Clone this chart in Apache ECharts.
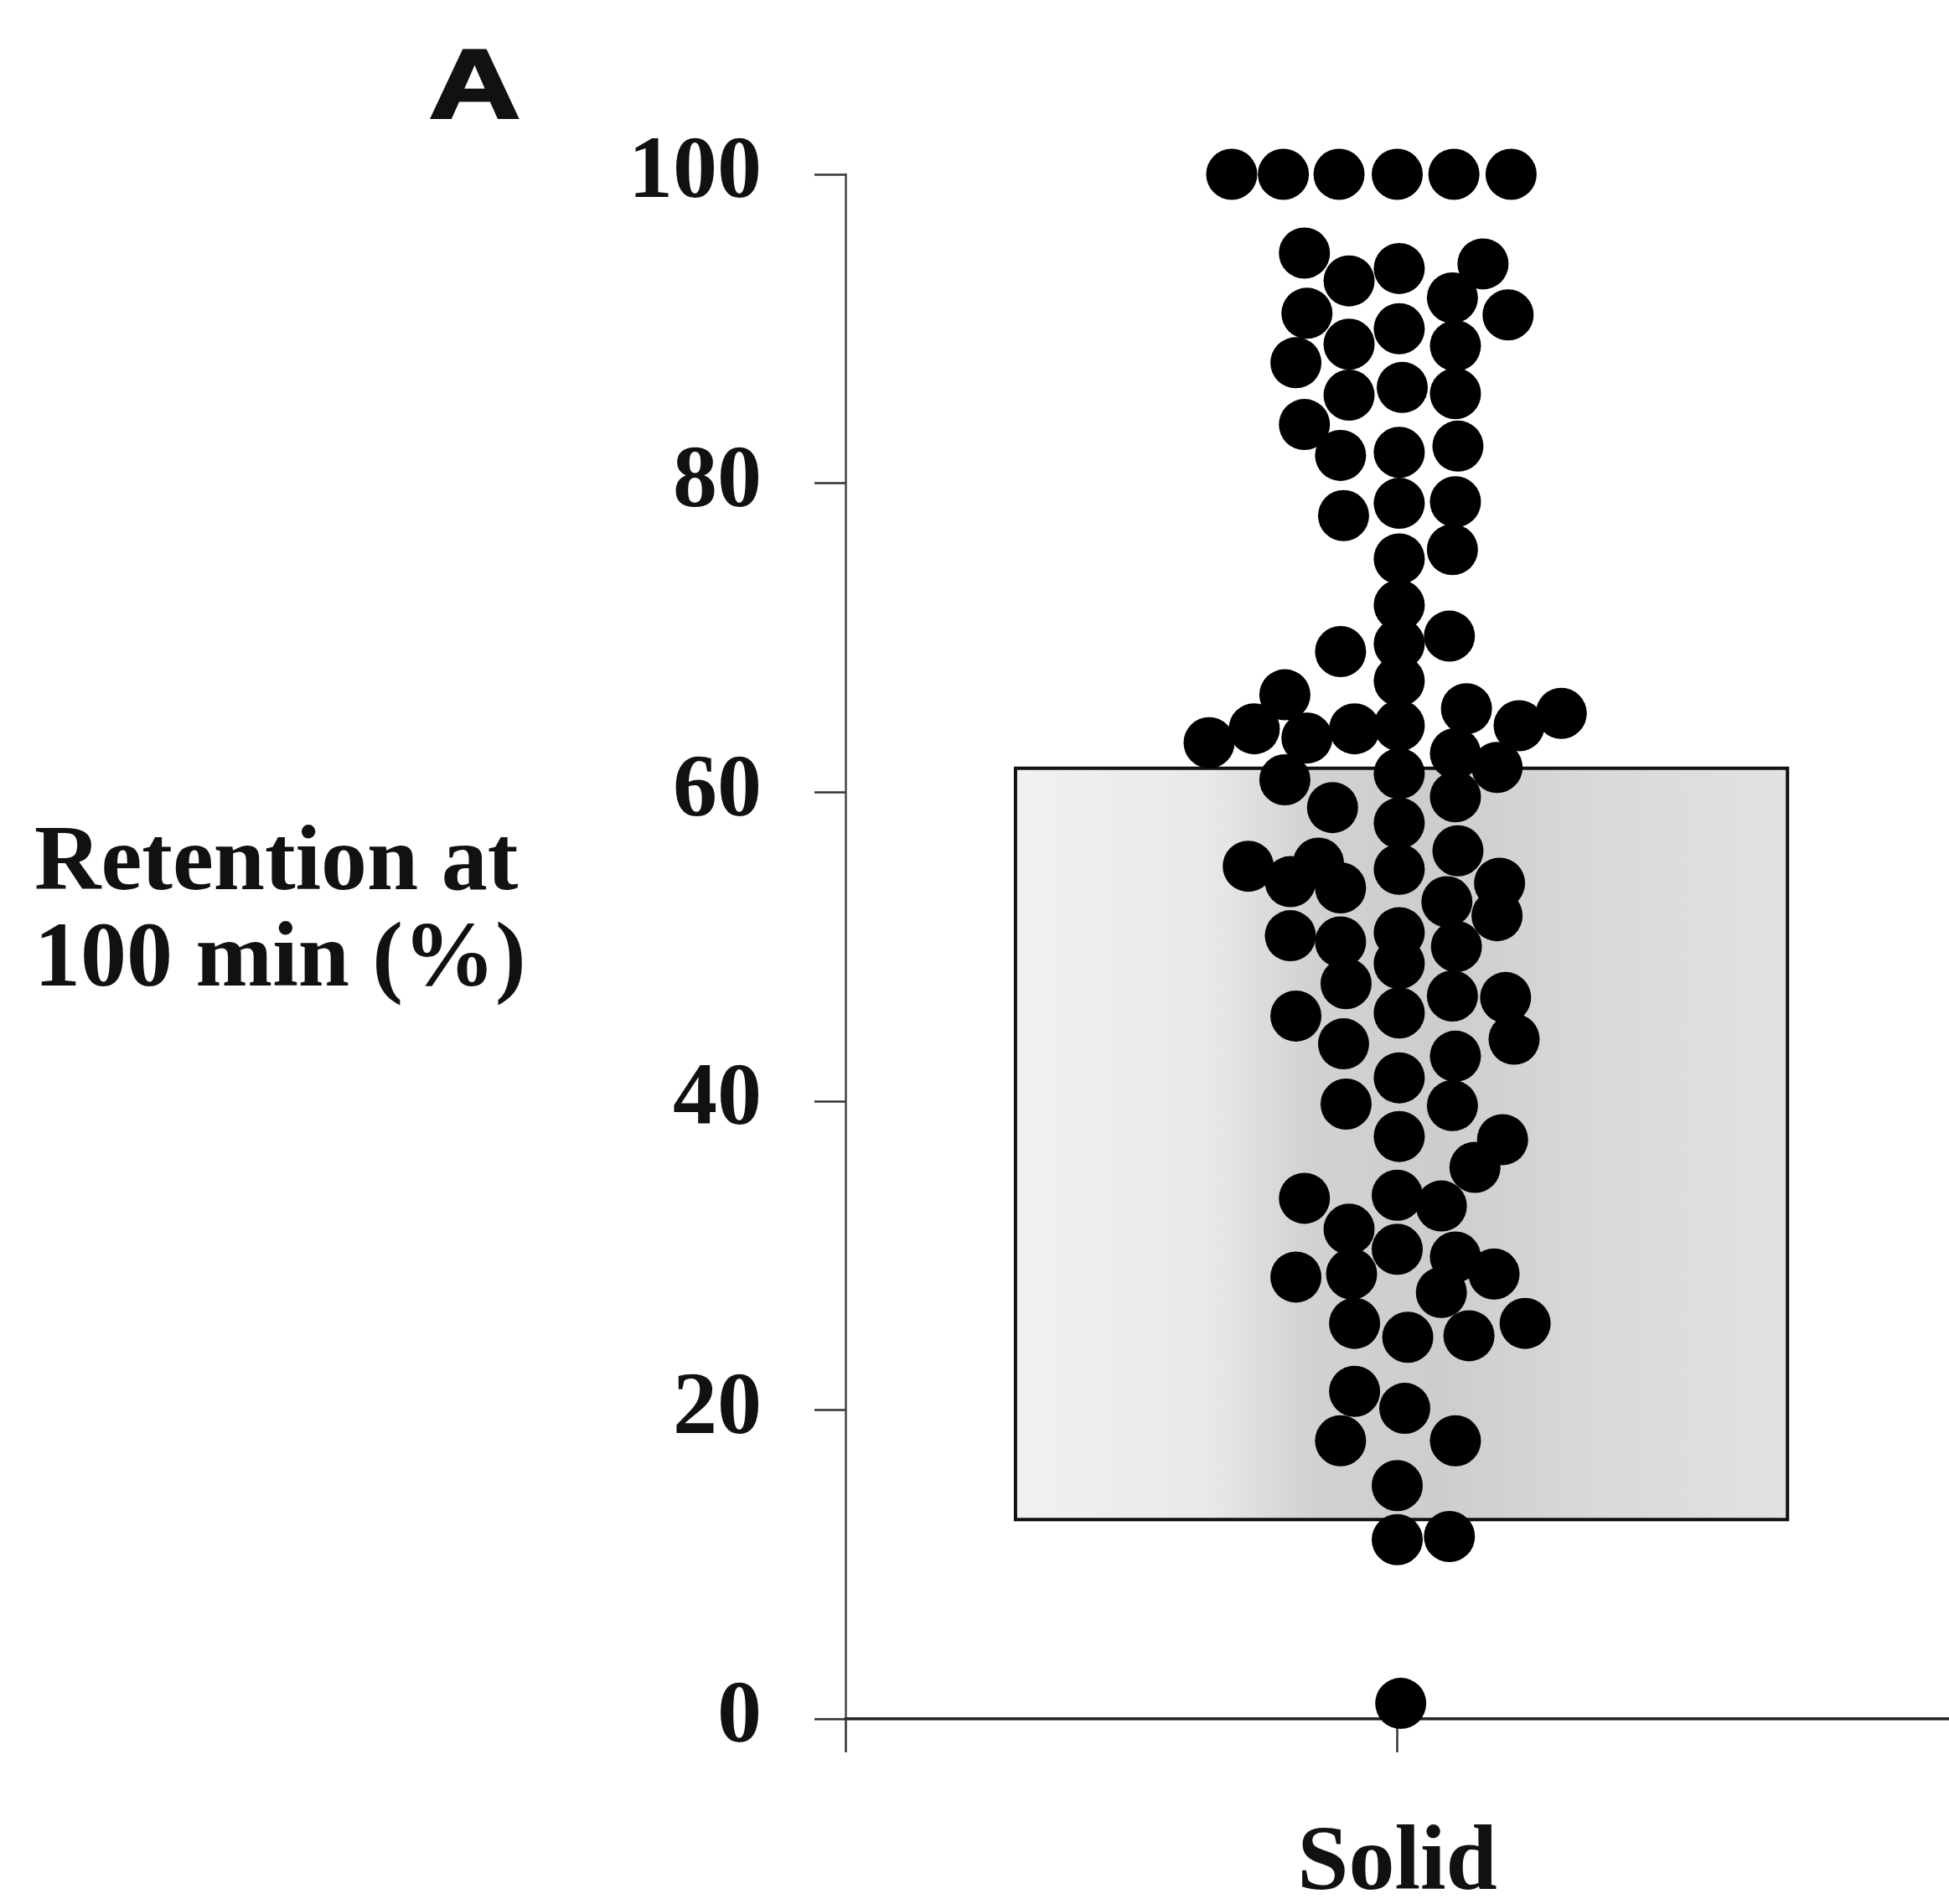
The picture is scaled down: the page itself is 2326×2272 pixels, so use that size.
<!DOCTYPE html>
<html>
<head>
<meta charset="utf-8">
<script src="https://cdn.jsdelivr.net/npm/echarts@6/dist/echarts.min.js"></script>
<style>
html,body{margin:0;padding:0;background:#fff;}
#chart{width:2326px;height:2272px;}
</style>
</head>
<body>
<div id="chart"></div>
<script>
// ---- data ----
const categories = ['Solid'];
const panelLabel = 'A';
const yTitle = 'Retention at\n100 min (%)';
const yTicks = [0, 20, 40, 60, 80, 100];
// horizontal jitter of each dot (in dot-widths from the category centre)
const jitter = [
  -3.30, -2.27, -1.16, 0.00, 1.13, 2.27,
  -1.85, -0.96, 0.04, 1.71, 1.10, 2.21, -1.80, 0.04, -0.96, -2.02, 1.16, -0.96, 0.10, 1.16,
  -1.85, -1.13, 0.04, 1.21, -1.07, 0.04, 1.16, 1.10, 0.04, 0.04, -1.13, 1.04, 0.04, 0.04,
  0.04, 0.04, 0.04, 0.04,
  -3.75, -2.85, -2.24, -0.85, -1.80, -2.24, -1.29,
  1.38, 2.43, 3.27, 1.16, 1.99, 1.16,
  -2.97, -2.13, -1.57, -1.13, -2.13, -1.13, 0.04, 0.04, 1.21, 2.04, 0.99, 1.99, 1.18,
  -2.02, -1.02, -1.07, 0.04, 1.10, 2.16, 2.33,
  -1.02, 0.04, 1.16, 1.10, 0.04, 2.10, 1.55,
  -1.85, 0.00, 0.88, -0.96, 0.00, -2.02, -0.91, 1.16, 1.93, 0.88, -0.85, 0.21, 1.43, 2.55,
  -0.85, 0.15, -1.13, 1.16, 0.00, 0.00, 1.04, 0.07
];
// retention at 100 min (%) of each dot
const retention = [
  100, 100, 100, 100, 100, 100,
  94.9, 93.1, 93.9, 94.2, 92.0, 90.9, 91.0, 90.0, 89.0, 87.8, 88.9, 85.7, 86.2, 85.8,
  83.8, 81.8, 82.0, 82.4, 77.9, 78.7, 78.8, 75.7, 75.1, 72.1, 69.1, 70.1, 69.6, 67.2,
  64.3, 61.2, 58.0, 55.0,
  63.2, 64.1, 66.3, 64.1, 63.5, 60.8, 59.0,
  65.4, 64.3, 65.1, 62.5, 61.6, 59.7,
  55.2, 54.2, 55.4, 53.8, 50.7, 50.3, 50.9, 48.9, 56.2, 54.1, 52.9, 52.0, 50.0,
  45.5, 47.6, 43.7, 45.7, 46.8, 46.7, 44.0,
  39.8, 41.5, 42.9, 39.7, 37.7, 37.5, 35.7,
  33.7, 33.9, 33.2, 31.7, 30.4, 28.6, 28.8, 29.9, 28.8, 27.6, 25.6, 24.7, 24.8, 25.6,
  21.2, 20.1, 18.0, 18.0, 15.1, 11.6, 11.8, 1.0
];
// shaded box: [left, right] extent and [low, high] retention
const boxX = [-7.61, 7.78];
const boxY = [12.9, 61.55];
const xRange = [-11, 11];

const dots = jitter.map((x, i) => [x, retention[i]]);
const serif = '"Liberation Serif", "Times New Roman", serif';

const chart = echarts.init(document.getElementById('chart'), null, {renderer: 'canvas'});
chart.setOption({
  backgroundColor: '#ffffff',
  animation: false,
  title: {
    text: yTitle,
    left: 41,
    top: 975,
    padding: 0,
    textStyle: {fontFamily: serif, fontWeight: 'bold', fontSize: 110, lineHeight: 115, color: '#111'}
  },
  graphic: [{
    type: 'text',
    x: 512,
    y: 109,
    scaleX: 1.3,
    style: {
      text: panelLabel,
      fontFamily: '"Liberation Sans", Arial, sans-serif',
      fontWeight: 'bold',
      fontSize: 116,
      fill: '#111',
      stroke: '#111',
      lineWidth: 3,
      textAlign: 'left',
      textVerticalAlign: 'middle'
    }
  }],
  grid: {left: 1009, right: 0, top: 208, bottom: 221, outerBoundsMode: 'none'},
  xAxis: {
    type: 'value',
    min: xRange[0],
    max: xRange[1],
    splitLine: {show: false},
    axisLine: {show: true, lineStyle: {color: '#222', width: 3.5}},
    axisTick: {show: true, length: 40, customValues: [xRange[0], 0], lineStyle: {color: '#333', width: 2.5}},
    axisLabel: {
      show: true,
      customValues: [0],
      margin: 120,
      formatter: () => categories[0],
      fontFamily: serif, fontWeight: 'bold', fontSize: 110, color: '#111'
    }
  },
  yAxis: {
    type: 'value',
    min: yTicks[0],
    max: yTicks[yTicks.length - 1],
    interval: 20,
    splitLine: {show: false},
    axisLine: {show: true, onZero: false, lineStyle: {color: '#444', width: 2.5}},
    axisTick: {show: true, length: 37, lineStyle: {color: '#333', width: 2.5}},
    axisLabel: {margin: 100, fontFamily: serif, fontWeight: 'bold', fontSize: 106, color: '#111'}
  },
  series: [
    {
      type: 'custom',
      z: 1,
      silent: true,
      data: [[boxX[0], boxX[1], boxY[0], boxY[1]]],
      renderItem: function (params, api) {
        const p1 = api.coord([api.value(0), api.value(3)]);
        const p2 = api.coord([api.value(1), api.value(2)]);
        return {
          type: 'rect',
          shape: {x: p1[0], y: p1[1], width: p2[0] - p1[0], height: p2[1] - p1[1]},
          style: {
            fill: new echarts.graphic.LinearGradient(0, 0, 1, 0, [
              {offset: 0, color: '#f1f1f1'},
              {offset: 0.25, color: '#e9e9e9'},
              {offset: 0.38, color: '#d2d2d2'},
              {offset: 0.55, color: '#cdcdcd'},
              {offset: 0.75, color: '#d9d9d9'},
              {offset: 1, color: '#e2e2e2'}
            ]),
            stroke: '#111',
            lineWidth: 4
          }
        };
      }
    },
    {
      type: 'scatter',
      z: 3,
      symbol: 'circle',
      symbolSize: 61,
      itemStyle: {color: '#000', opacity: 1},
      data: dots
    }
  ]
});
</script>
</body>
</html>
